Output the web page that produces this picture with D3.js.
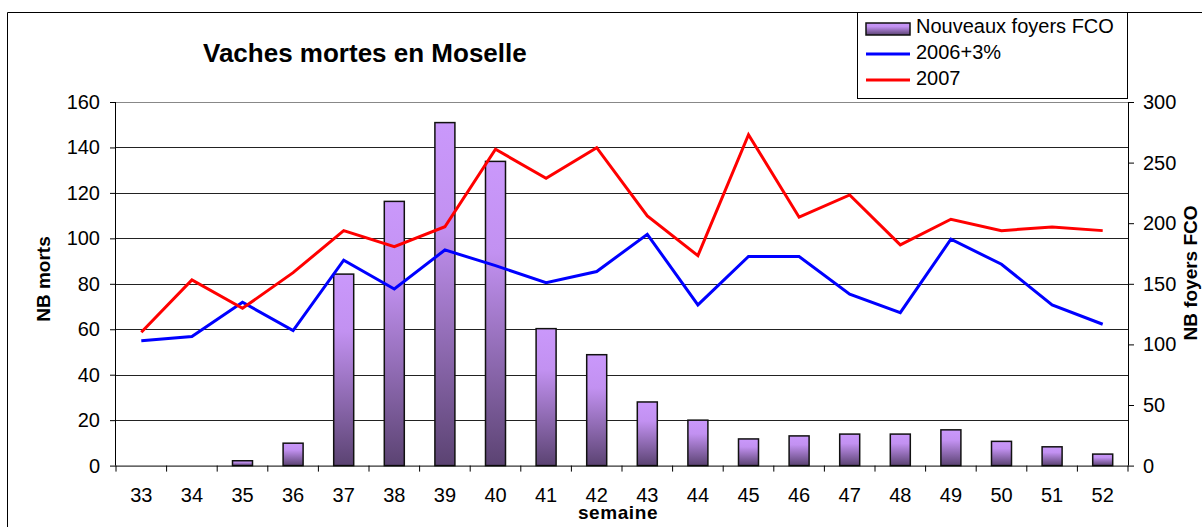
<!DOCTYPE html>
<html><head><meta charset="utf-8">
<script src="https://cdn.jsdelivr.net/npm/d3@7"></script>
<style>body{margin:0;background:#fff}svg{display:block;font-family:"Liberation Sans",Arial,sans-serif}</style>
</head><body>
<svg id="c" width="1202" height="527"></svg>
<script>
const weeks = ["33","34","35","36","37","38","39","40","41","42","43","44","45","46","47","48","49","50","51","52"];
const foyers = [0,0,4,18.5,158,218,283,251,113,91.5,52.5,37.5,22,24.5,26,26,29.5,20,15.5,9.5];
const s2006 = [54.9,56.8,71.9,59.4,90.4,77.7,94.9,88,80.5,85.4,101.8,70.7,92,92,75.4,67.3,99.6,88.6,70.7,62.2];
const s2007 = [58.7,81.7,69.2,84.9,103.4,96.3,105.1,139.2,126.4,139.9,109.9,92.4,145.6,109.3,119.1,97.1,108.4,103.4,105,103.4];
const leftTicks = [0,20,40,60,80,100,120,140,160];
const rightTicks = [0,50,100,150,200,250,300];
const seriesNames = ["Nouveaux foyers FCO","2006+3%","2007"];

const svg = d3.select("#c");
const L = 116, R = 1128, T = 102, B = 465.6;

const x = d3.scaleBand().domain(weeks).range([L, R]).padding(0);
const yL = d3.scaleLinear().domain([0,160]).range([B, T]);
const yR = d3.scaleLinear().domain([0,300]).range([B, T]);
const bw = x.bandwidth();
const cx = d => x(d) + bw/2;

const defs = svg.append("defs");
const g = defs.append("linearGradient").attr("id","barg").attr("x1",0).attr("y1",0).attr("x2",0).attr("y2",1);
g.append("stop").attr("offset","0").attr("stop-color","#ca98fb");
g.append("stop").attr("offset","0.3").attr("stop-color","#c291f1");
g.append("stop").attr("offset","1").attr("stop-color","#5b4372");

// outer border
svg.append("path").attr("d","M7.5,527 V12.5 H1202").attr("fill","none").attr("stroke","#000").attr("stroke-width",1);

// gridlines
svg.append("g").selectAll("line").data(leftTicks.slice(1)).join("line")
  .attr("x1",L).attr("x2",R).attr("y1",d=>Math.round(yL(d))+0.5).attr("y2",d=>Math.round(yL(d))+0.5)
  .attr("stroke",(d,i)=> d===160 ? "#888" : "#222").attr("stroke-width",1);

// bars
svg.append("g").selectAll("rect").data(weeks.map((w,i)=>({w,v:foyers[i]})).filter(d=>d.v>0)).join("rect")
  .attr("x",d=>cx(d.w)-10).attr("width",20)
  .attr("y",d=>yR(d.v)).attr("height",d=>B-yR(d.v))
  .attr("fill","url(#barg)").attr("stroke","#111").attr("stroke-width",1.5);

// axes
const axL = svg.append("g").attr("transform",`translate(${L},0)`)
  .call(d3.axisLeft(yL).tickValues(leftTicks).tickSize(6).tickPadding(10));
const axR = svg.append("g").attr("transform",`translate(${R},0)`)
  .call(d3.axisRight(yR).tickValues(rightTicks).tickSize(6).tickPadding(9));
const axB = svg.append("g").attr("transform",`translate(0,${B})`)
  .call(d3.axisBottom(x).tickSize(0).tickPadding(22));
// category boundary ticks
svg.append("g").selectAll("line").data(weeks.concat(["end"])).join("line")
  .attr("x1",(d,i)=> i<weeks.length ? x(d) : R).attr("x2",(d,i)=> i<weeks.length ? x(d) : R)
  .attr("y1",B).attr("y2",B+6).attr("stroke","#000");
[axL,axR,axB].forEach(a=>{
  a.selectAll("text").attr("font-size",20).attr("fill","#000").attr("font-family","Liberation Sans, Arial, sans-serif");
  a.selectAll("path,line").attr("stroke","#000");
});
axL.select(".domain").attr("d",`M-0.5,${B}V${T}`);
axR.select(".domain").attr("d",`M0.5,${B}V${T}`);
axB.select(".domain").attr("d",`M${L},0.5H${R}`);

// lines
const line = arr => d3.line().x((d,i)=>cx(weeks[i])).y(d=>yL(d))(arr);
svg.append("path").attr("d",line(s2006)).attr("fill","none").attr("stroke","#0000ff").attr("stroke-width",3).attr("stroke-linejoin","miter");
svg.append("path").attr("d",line(s2007)).attr("fill","none").attr("stroke","#ff0000").attr("stroke-width",3).attr("stroke-linejoin","miter");

// title
svg.append("text").attr("x",203).attr("y",62).attr("font-size",26).attr("font-weight","bold").text("Vaches mortes en Moselle");
// axis titles
svg.append("text").attr("transform","translate(50,279) rotate(-90)").attr("text-anchor","middle")
  .attr("font-size",19).attr("font-weight","bold").text("NB morts");
svg.append("text").attr("transform","translate(1197,273) rotate(-90)").attr("text-anchor","middle")
  .attr("font-size",19).attr("font-weight","bold").text("NB foyers FCO");
svg.append("text").attr("x",618).attr("y",519).attr("text-anchor","middle")
  .attr("font-size",19).attr("font-weight","bold").attr("letter-spacing",0.6).text("semaine");

// legend
const lg = svg.append("g");
lg.append("rect").attr("x",857.5).attr("y",12.5).attr("width",270).attr("height",86).attr("fill","#fff").attr("stroke","#000");
lg.append("rect").attr("x",866).attr("y",23).attr("width",44).attr("height",12).attr("fill","url(#barg)").attr("stroke","#111").attr("stroke-width",1.5);
lg.append("line").attr("x1",866).attr("x2",910).attr("y1",54).attr("y2",54).attr("stroke","#0000ff").attr("stroke-width",3);
lg.append("line").attr("x1",866).attr("x2",910).attr("y1",80).attr("y2",80).attr("stroke","#ff0000").attr("stroke-width",3);
[33,59,85].forEach((yy,i)=>{
  lg.append("text").attr("x",916).attr("y",yy).attr("font-size",20).text(seriesNames[i]);
});
</script>
</body></html>
